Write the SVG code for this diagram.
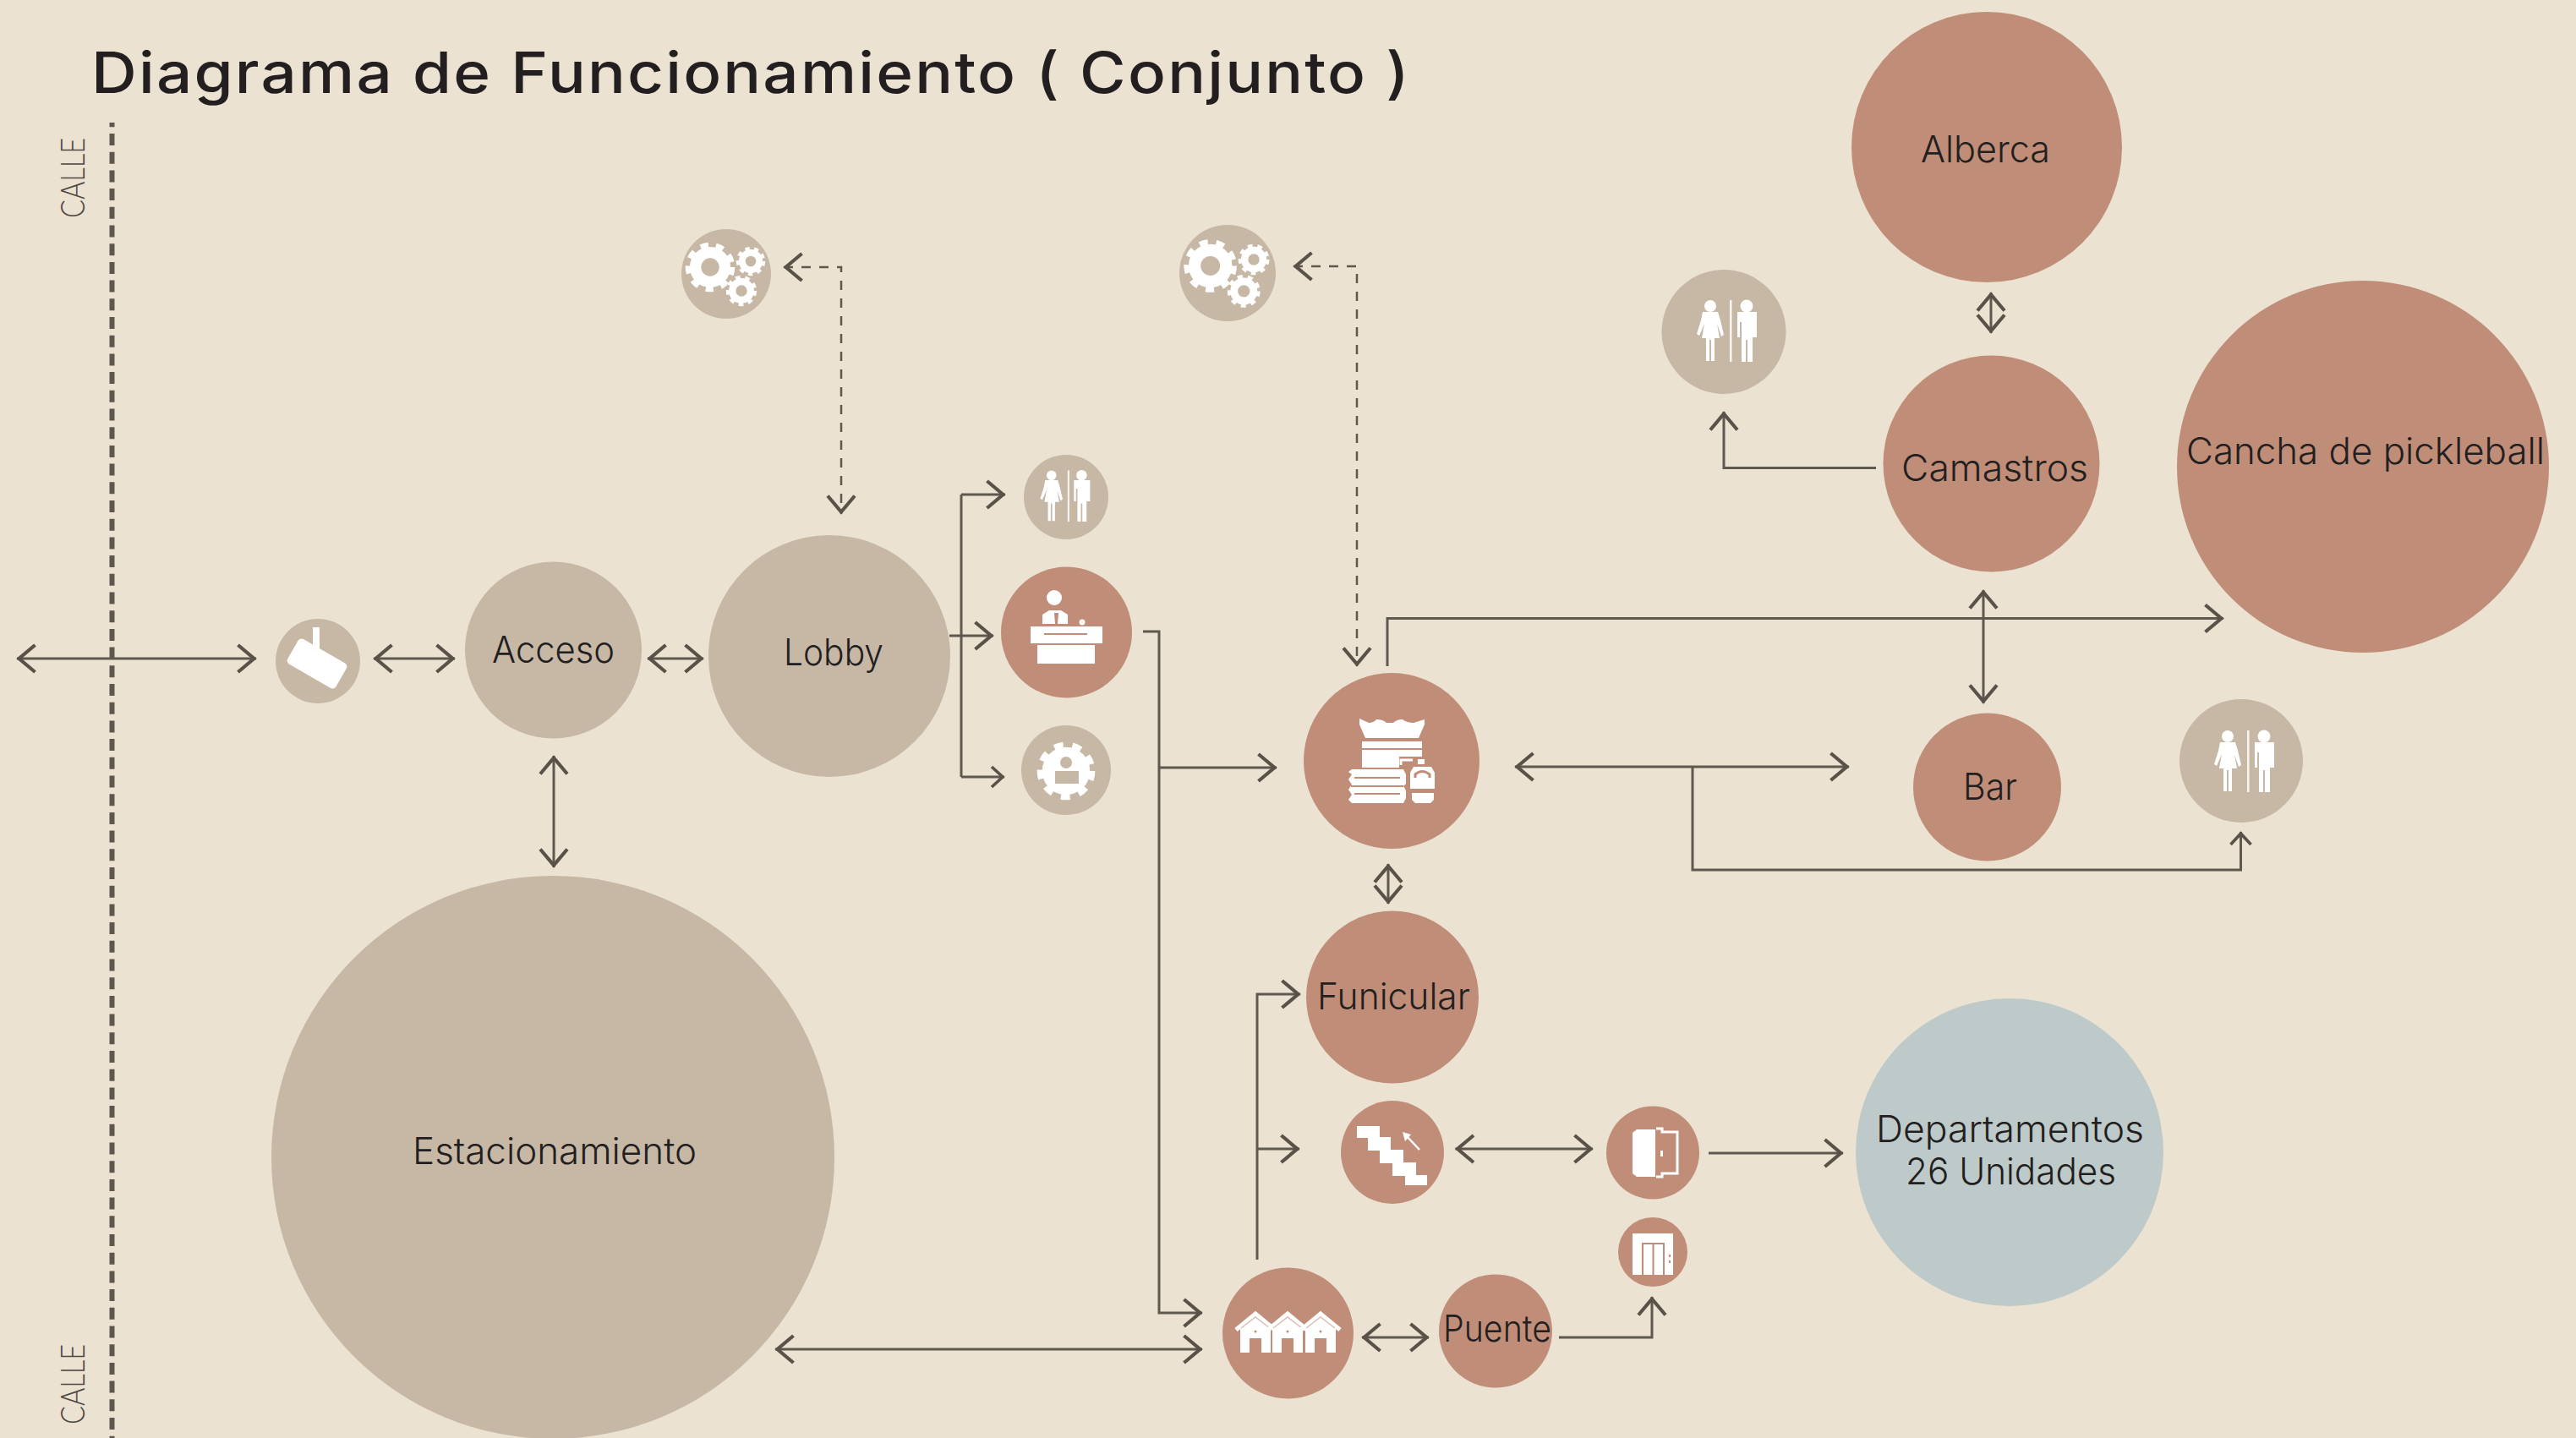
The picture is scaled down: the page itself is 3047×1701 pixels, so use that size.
<svg xmlns="http://www.w3.org/2000/svg" width="3047" height="1701" viewBox="0 0 3047 1701">
<style>
.t{font-family:"Inter","Liberation Sans",sans-serif;font-size:43px;font-weight:350;fill:#231f20}
.title{font-family:"Inter","Liberation Sans",sans-serif;font-size:67px;font-weight:500;letter-spacing:2px;fill:#231f20}
.calle{font-family:"Lato","Liberation Sans",sans-serif;font-size:40px;font-weight:300;fill:#4f4842}
.br{fill:#c08e78}.ta{fill:#c7b8a6}.bl{fill:#bdcac9}
.w{fill:#fff}
.c{fill:none;stroke:#5f584e;stroke-width:3;stroke-linejoin:miter}
.a{marker-end:url(#h)}
.b{marker-start:url(#h);marker-end:url(#h)}
.d{stroke-width:2.5;stroke-dasharray:11 10}
.sm{marker-end:url(#s)}
.street{fill:none;stroke:#5f5650;stroke-width:6;stroke-dasharray:14 7.700;stroke-dashoffset:8.700}
</style>
<defs>
<marker id="h" viewBox="-24 -20 28 40" refX="2.500" refY="0" markerWidth="28" markerHeight="40" markerUnits="userSpaceOnUse" orient="auto-start-reverse"><path d="M-19,-16 L0,0 L-19,16" fill="none" stroke="#5a5248" stroke-width="4.200"/></marker>
<marker id="s" viewBox="-24 -20 28 40" refX="2" refY="0" markerWidth="28" markerHeight="40" markerUnits="userSpaceOnUse" orient="auto"><path d="M-13,-12 L0,0 L-13,12" fill="none" stroke="#5a5248" stroke-width="3.600"/></marker>
<g id="gear"><circle r=".6" fill="none" stroke="#fff" stroke-width=".46"/><circle r=".88" fill="none" stroke="#fff" stroke-width=".26" pathLength="8" stroke-dasharray=".5 .5"/></g>
<g id="gears"><use href="#gear" transform="translate(-19,-8) scale(29)"/><use href="#gear" transform="translate(29,-15) scale(17)"/><use href="#gear" transform="translate(18,20) scale(18)"/></g>
<g id="wc" fill="#fff"><circle cx="-16" cy="-31" r="7"/><circle cx="27" cy="-31" r="7.500"/>
<path d="M-25,-24H-7L-4,-14L0,3L-3,5L-8,-10L-5,7H-11V34H-15V9H-17V34H-21V7H-26L-23,-10L-29,4L-32,2L-27,-14Z"/>
<path d="M16,-24H39V6H34V35H28V9H26V35H21V-12H19V6H16Z"/>
<rect x="7" y="-38" width="2.500" height="73" fill-opacity=".85"/></g>
<g id="house"><path class="w" d="M-18,46V18L0,3L18,18V46H7V29H-7V46Z"/><path d="M-23,19L0,0L23,19" fill="none" stroke="#fff" stroke-width="5"/><path d="M-17,17L0,4L17,17" fill="none" stroke="#c08e78" stroke-opacity=".55" stroke-width="1.500"/><circle cx="0" cy="21" r="1.500" fill="#c08e78"/></g>
</defs>
<rect width="3047" height="1701" fill="#ebe2d1"/>
<text class="title" x="108" y="110" textLength="1561" lengthAdjust="spacingAndGlyphs">Diagrama de Funcionamiento ( Conjunto )</text>
<g id="street">
<line class="street" x1="132.500" y1="145" x2="132.500" y2="1701"/>
<text class="calle" transform="translate(100,258) rotate(-90)" textLength="95" lengthAdjust="spacingAndGlyphs">CALLE</text>
<text class="calle" transform="translate(100,1685) rotate(-90)" textLength="95" lengthAdjust="spacingAndGlyphs">CALLE</text>
</g>
<g id="connectors">
<path class="c b" d="M20,779H303"/>
<path class="c b" d="M442,779H538"/>
<path class="c b" d="M766,779H832"/>
<path class="c b" d="M655,894V1026"/>
<path class="c d b" d="M927,316H995V608"/>
<path class="c a" d="M1137,585H1189"/>
<path class="c sm" d="M1137,919H1188"/>
<path class="c" d="M1137,585V919"/>
<path class="c a" d="M1123,752H1175"/>
<path class="c a" d="M1352,747H1371V1553H1422"/>
<path class="c a" d="M1371,908H1510"/>
<path class="c d b" d="M1530,315H1605V788"/>
<path class="c a" d="M1641,788V731.500H2630"/>
<path class="c b" d="M2346,698V832"/>
<path class="c b" d="M2355,346V394"/>
<path class="c a" d="M2219,553.500H2039V487"/>
<path class="c b" d="M1792,907H2187"/>
<path class="c sm" d="M2002,908V1029H2650.500V984"/>
<path class="c b" d="M1642,1022V1069"/>
<path class="c a" d="M1487,1490V1176H1538"/>
<path class="c a" d="M1487,1359H1537"/>
<path class="c b" d="M1721.500,1359H1884"/>
<path class="c a" d="M2021,1364H2180"/>
<path class="c b" d="M1611,1582H1690"/>
<path class="c a" d="M1844,1582H1954V1534"/>
<path class="c b" d="M917,1596H1422"/>
</g>
<g id="camera"><circle class="ta" cx="376" cy="782" r="50"/><rect class="w" x="370" y="742" width="8" height="26"/><rect class="w" x="342" y="768" width="66" height="34" rx="5" transform="rotate(30 375 785)"/></g>
<g id="acceso"><circle class="ta" cx="654.500" cy="769" r="104.500"/><text class="t" x="582" y="784" textLength="145" lengthAdjust="spacingAndGlyphs">Acceso</text></g>
<g id="lobby"><circle class="ta" cx="981" cy="776" r="143"/><text class="t" x="927" y="787" textLength="118" lengthAdjust="spacingAndGlyphs">Lobby</text></g>
<g id="estacionamiento"><circle class="ta" cx="654" cy="1369" r="333"/><text class="t" x="488" y="1377" textLength="336" lengthAdjust="spacingAndGlyphs">Estacionamiento</text></g>
<g id="mantenimiento-lobby"><circle class="ta" cx="859" cy="324" r="53"/><use href="#gears" transform="translate(859,324)"/></g>
<g id="mantenimiento-conjunto"><circle class="ta" cx="1452" cy="323" r="57"/><use href="#gears" transform="translate(1452,323) scale(1.07)"/></g>
<g id="wc-lobby"><circle class="ta" cx="1261" cy="588" r="50"/><use href="#wc" transform="translate(1257,588) scale(.83)"/></g>
<g id="recepcion"><circle class="br" cx="1261.500" cy="748" r="77.500"/>
<circle class="w" cx="1247" cy="707" r="9"/><path class="w" d="M1233,738V727L1241,722H1255L1263,727V738Z"/><path class="br" d="M1247,725H1252L1251,738H1248Z"/><circle class="w" cx="1280" cy="736" r="3.500"/>
<rect class="w" x="1219" y="741" width="85" height="20"/><rect class="br" x="1235" y="749" width="51" height="2"/><rect class="w" x="1227" y="763" width="68" height="22"/></g>
<g id="administracion"><circle class="ta" cx="1261" cy="911" r="53"/><use href="#gear" transform="translate(1261,912) scale(34)"/><circle class="w" cx="1261" cy="912" r="22"/><circle class="ta" cx="1261" cy="902" r="7"/><rect class="ta" x="1248" y="912" width="28" height="15"/></g>
<g id="blancos"><circle class="br" cx="1646" cy="900" r="104"/>
<path class="w" d="M1608,850L1619,855Q1625,855 1628,851Q1636,851 1640,855L1648,855Q1652,851 1659,851Q1664,855 1672,855L1685,851V857L1678,873H1615L1608,857Z"/>
<rect class="w" x="1611" y="877" width="71" height="31"/><rect class="br" x="1611" y="885" width="71" height="2"/>
<path class="br" d="M1655,895H1700V952H1652V908H1655Z"/>
<path class="w" d="M1599,910H1660L1663,916V927L1660,930L1663,935V944L1660,950H1599L1595,946L1599,940L1595,934L1599,928L1595,922L1599,916L1595,913Z"/><rect class="br" x="1602" y="919" width="54" height="2"/><rect class="br" x="1598" y="929" width="62" height="2"/><rect class="br" x="1602" y="938" width="54" height="2"/>
<path d="M1657,905V899H1671" fill="none" stroke="#fff" stroke-width="3"/><rect class="w" x="1677" y="898" width="8" height="6"/>
<path class="w" d="M1672,907H1693L1697,914V933H1668V914Z"/><path d="M1674,920V916Q1682,909 1691,916V920" fill="none" stroke="#c08e78" stroke-width="3"/><path class="w" d="M1670,938H1696V946L1692,950H1674L1670,946Z"/></g>
<g id="funicular"><circle class="br" cx="1647" cy="1179.500" r="102"/><text class="t" x="1558" y="1194" textLength="181" lengthAdjust="spacingAndGlyphs">Funicular</text></g>
<g id="escaleras"><circle class="br" cx="1647" cy="1363" r="61"/><path class="w" d="M1605,1332H1632V1345H1645V1360H1660V1375H1675V1390H1688V1402H1662V1391H1647V1376H1632V1361H1618V1346H1605Z"/><path d="M1679,1360L1663,1343" stroke="#fff" stroke-width="2.500" fill="none"/><path class="w" d="M1659,1339L1669,1342L1662,1350Z"/></g>
<g id="puerta"><circle class="br" cx="1955" cy="1363.500" r="55"/><path class="w" d="M1936,1336H1958V1392H1936L1931,1388V1340Z"/><path d="M1959,1335H1966V1339H1984V1388H1966V1392H1959" fill="none" stroke="#fff" stroke-width="3"/><rect class="w" x="1964" y="1361" width="3" height="7"/></g>
<g id="elevador"><circle class="br" cx="1955" cy="1481" r="41"/><rect class="w" x="1931" y="1459" width="48" height="49"/><path d="M1943,1508V1471H1968V1508M1955.500,1471V1508" fill="none" stroke="#c08e78" stroke-width="2"/><rect class="br" x="1974" y="1484" width="2" height="3"/><rect class="br" x="1974" y="1491" width="2" height="3"/></g>
<g id="casas"><circle class="br" cx="1523.500" cy="1577" r="77.500"/><use href="#house" transform="translate(1485,1554)"/><use href="#house" transform="translate(1523,1554)"/><use href="#house" transform="translate(1562,1554)"/></g>
<g id="puente"><circle class="br" cx="1769" cy="1574.500" r="67"/><text class="t" x="1707" y="1587" textLength="128" lengthAdjust="spacingAndGlyphs">Puente</text></g>
<g id="departamentos"><circle class="bl" cx="2377" cy="1363" r="182"/><text class="t" x="2219" y="1351" textLength="317" lengthAdjust="spacingAndGlyphs">Departamentos</text><text class="t" x="2254" y="1401" textLength="249" lengthAdjust="spacingAndGlyphs">26 Unidades</text></g>
<g id="alberca"><circle class="br" cx="2350" cy="174" r="160"/><text class="t" x="2272" y="192" textLength="153" lengthAdjust="spacingAndGlyphs">Alberca</text></g>
<g id="camastros"><circle class="br" cx="2355.500" cy="548.500" r="128"/><text class="t" x="2249" y="569" textLength="221" lengthAdjust="spacingAndGlyphs">Camastros</text></g>
<g id="cancha"><circle class="br" cx="2795" cy="552" r="220"/><text class="t" x="2586" y="549" textLength="424" lengthAdjust="spacingAndGlyphs">Cancha de pickleball</text></g>
<g id="bar"><circle class="br" cx="2350.500" cy="931" r="87.500"/><text class="t" x="2322" y="946" textLength="64" lengthAdjust="spacingAndGlyphs">Bar</text></g>
<g id="wc-camastros"><circle class="ta" cx="2039" cy="392.500" r="73.500"/><use href="#wc" transform="translate(2039,393)"/></g>
<g id="wc-bar"><circle class="ta" cx="2651" cy="900" r="73"/><use href="#wc" transform="translate(2651,902)"/></g>
</svg>
